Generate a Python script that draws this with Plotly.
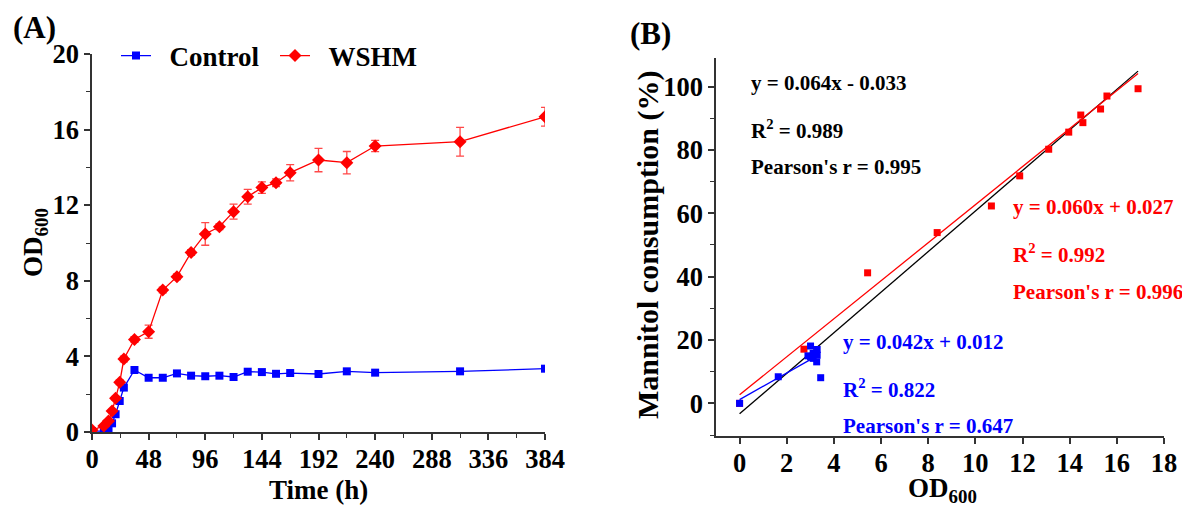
import plotly.graph_objects as go

# ---------------- Panel A data ----------------
time_h = [0, 10, 14, 17, 20, 23.5, 27, 36, 48, 60, 72, 84, 96, 108, 120, 132, 144, 156, 168, 192, 216, 240, 312, 384]
od_wshm = [0.1, 0.32, 0.58, 1.11, 1.78, 2.63, 3.86, 4.9, 5.31, 7.51, 8.22, 9.5, 10.48, 10.86, 11.66, 12.45, 12.93, 13.19, 13.72, 14.39, 14.25, 15.13, 15.36, 16.68]
err_wshm = [0.02, 0.03, 0.05, 0.08, 0.1, 0.12, 0.15, 0.15, 0.35, 0.15, 0.15, 0.15, 0.6, 0.15, 0.4, 0.39, 0.3, 0.2, 0.43, 0.62, 0.59, 0.3, 0.76, 0.5]
od_ctrl = [0.05, 0.05, 0.2, 0.46, 0.94, 1.64, 2.35, 3.28, 2.87, 2.87, 3.1, 2.98, 2.95, 2.98, 2.91, 3.19, 3.17, 3.08, 3.12, 3.07, 3.21, 3.14, 3.21, 3.35]
err_ctrl = [0.01, 0.01, 0.02, 0.03, 0.04, 0.05, 0.05, 0.05, 0.05, 0.05, 0.05, 0.05, 0.05, 0.05, 0.05, 0.05, 0.05, 0.05, 0.05, 0.05, 0.05, 0.05, 0.05, 0.05]

# ---------------- Panel B data ----------------
od_b_wshm = [0, 2.73, 5.43, 8.38, 10.68, 11.88, 13.11, 13.96, 14.47, 14.56, 15.31, 15.58, 16.9]
cons_b_wshm = [0, 17.1, 41.2, 53.9, 62.3, 71.8, 80.2, 85.6, 91.0, 88.6, 92.9, 97.0, 99.3]
od_b_ctrl = [0, 1.64, 2.9, 3.01, 3.01, 3.12, 3.12, 3.27, 3.29, 3.29, 3.44]
cons_b_ctrl = [0, 8.4, 15.0, 18.1, 14.7, 15.8, 14.2, 13.1, 17.0, 15.2, 8.1]

# linear fits (fraction units): slope, intercept, x-range
fit_all = (0.064, -0.033, 0.0, 16.9)
fit_wshm = (0.060, 0.027, 0.0, 16.9)
fit_ctrl = (0.042, 0.012, 0.0, 3.3)

fit_labels_all = ["y = 0.064x - 0.033", "R<sup>2</sup> = 0.989", "Pearson's r = 0.995"]
fit_labels_wshm = ["y = 0.060x + 0.027", "R<sup>2</sup> = 0.992", "Pearson's r = 0.996"]
fit_labels_ctrl = ["y = 0.042x + 0.012", "R<sup>2</sup> = 0.822", "Pearson's r = 0.647"]

BLUE = "#0000FF"
RED = "#FF0000"
FONT = "Liberation Serif"
W, H = 1190, 508
OFF = 8  # page body margin offset


def px_x(p):
    return (p - OFF) / W


def px_y(p):
    return 1 - (p - OFF) / H


fig = go.Figure()

# Panel A traces
fig.add_trace(go.Scatter(
    x=time_h, y=od_ctrl, mode="lines+markers", name="\u00a0\u00a0Control",
    line=dict(color=BLUE, width=1.3),
    marker=dict(symbol="square", size=8, color=BLUE),
    error_y=dict(type="data", array=err_ctrl, color=BLUE, thickness=1, width=3),
    xaxis="x", yaxis="y"))
fig.add_trace(go.Scatter(
    x=time_h, y=od_wshm, mode="lines+markers", name="\u00a0\u00a0WSHM",
    line=dict(color=RED, width=1.3),
    marker=dict(symbol="diamond", size=10, color=RED),
    error_y=dict(type="data", array=err_wshm, color="rgba(255,40,40,0.85)", thickness=1.3, width=4),
    xaxis="x", yaxis="y"))

# Panel B fit lines
for (m, b, x0, x1), col in [(fit_all, "black"), (fit_wshm, RED)]:
    fig.add_trace(go.Scatter(x=[x0, x1], y=[(m * x0 + b) * 100, (m * x1 + b) * 100],
                             mode="lines", line=dict(color=col, width=1.3),
                             showlegend=False, xaxis="x2", yaxis="y2"))
fig.add_trace(go.Scatter(x=od_b_wshm, y=cons_b_wshm, mode="markers",
                         marker=dict(symbol="square", size=7, color=RED),
                         showlegend=False, xaxis="x2", yaxis="y2"))
m, b, x0, x1 = fit_ctrl
fig.add_trace(go.Scatter(x=[x0, x1], y=[(m * x0 + b) * 100, (m * x1 + b) * 100],
                         mode="lines", line=dict(color=BLUE, width=1.3),
                         showlegend=False, xaxis="x2", yaxis="y2"))
fig.add_trace(go.Scatter(x=od_b_ctrl, y=cons_b_ctrl, mode="markers",
                         marker=dict(symbol="square", size=7, color=BLUE),
                         showlegend=False, xaxis="x2", yaxis="y2"))

axis_common = dict(showline=True, linecolor="#333333", linewidth=1.5, ticks="outside",
                   ticklen=6, tickwidth=1.5, tickcolor="#333333", showgrid=False, zeroline=False,
                   automargin=False,
                   tickfont=dict(family=FONT, size=26.5, color="black", weight="bold"))

fig.update_layout(
    width=W, height=H, margin=dict(l=0, r=0, t=0, b=0, pad=0, autoexpand=False),
    paper_bgcolor="white", plot_bgcolor="white",
    xaxis=dict(domain=[px_x(92), px_x(545)], range=[0, 384], tick0=0, dtick=48,
               minor=dict(dtick=24, ticks="outside", ticklen=4, tickcolor="#333333", tickwidth=1.2),
               anchor="y", ticklabelstandoff=-4, **axis_common),
    yaxis=dict(domain=[px_y(432), px_y(54)], range=[0, 20], tick0=0, dtick=4,
               minor=dict(dtick=2, ticks="outside", ticklen=4, tickcolor="#333333", tickwidth=1.2),
               anchor="x", **axis_common),
    xaxis2=dict(domain=[px_x(716), px_x(1164)], range=[-1, 18], tick0=0, dtick=2,
                anchor="y2", ticklabelstandoff=-4, **axis_common),
    yaxis2=dict(domain=[px_y(436), px_y(58)], range=[-10.3, 109], tick0=0, dtick=20,
                minor=dict(dtick=10, ticks="outside", ticklen=4, tickcolor="#333333", tickwidth=1.2),
                anchor="x2", **axis_common),
    showlegend=True,
    legend=dict(orientation="h", x=px_x(116), y=px_y(56), xanchor="left", yanchor="middle",
                font=dict(family=FONT, size=27, color="black", weight="bold"),
                bgcolor="rgba(0,0,0,0)", entrywidth=114, entrywidthmode="pixels"),
)

ann = []


def add_text(text, x, y, size, color="black", xref="paper", yref="paper", xanchor="center",
             yanchor="middle", angle=0):
    ann.append(dict(text=text, x=x, y=y, xref=xref, yref=yref, xanchor=xanchor, yanchor=yanchor,
                    showarrow=False, textangle=angle,
                    font=dict(family=FONT, size=size, color=color, weight="bold")))


add_text("(A)", px_x(34), px_y(27), 31)
add_text("(B)", px_x(650), px_y(33), 31)
add_text("Time (h)", px_x(318), px_y(490), 27)
add_text("OD<sub>600</sub>", px_x(942), px_y(490), 27)
add_text("OD<sub>600</sub>", px_x(35), px_y(243), 27, angle=-90)
add_text("Mannitol consumption (%)", px_x(648), px_y(245), 30, angle=-90)

for lbl, yv in zip(fit_labels_all, [101.2, 86.3, 74.5]):
    add_text(lbl, 0.40, yv, 21, "black", "x2", "y2", "left")
for lbl, yv in zip(fit_labels_wshm, [61.9, 47.4, 35.2]):
    add_text(lbl, 11.49, yv, 21, RED, "x2", "y2", "left")
for lbl, yv in zip(fit_labels_ctrl, [19.5, 4.7, -7.2]):
    add_text(lbl, 4.32, yv, 21, BLUE, "x2", "y2", "left")

fig.update_layout(annotations=ann)
fig.write_html("out.html")
